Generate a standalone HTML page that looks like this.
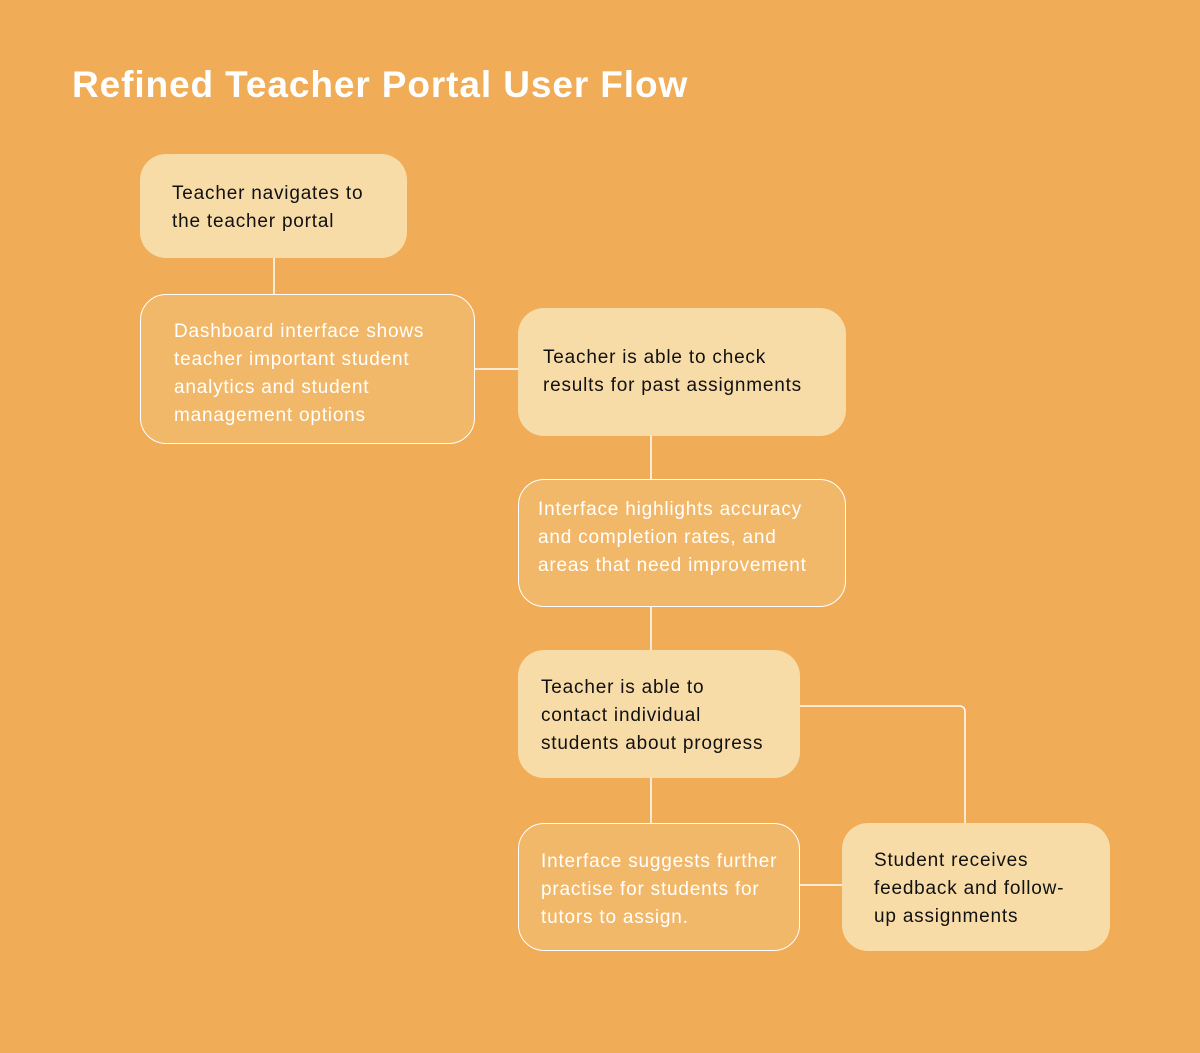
<!DOCTYPE html>
<html><head><meta charset="utf-8"><style>
html,body{margin:0;padding:0;}
body{width:1200px;height:1053px;background:#F0AC57;position:relative;overflow:hidden;font-family:"Liberation Sans",sans-serif;}
.t{position:absolute;left:72px;top:64px;font-size:37px;font-weight:bold;color:#fff;letter-spacing:0.9px;}
.b{position:absolute;box-sizing:border-box;border-radius:26px;font-size:19px;line-height:28px;letter-spacing:0.8px;white-space:nowrap;}
.l{background:#F8DCA8;color:#111;}
.o{background:#F2B86A;border:1.5px solid #fff;color:#fff;}
svg{position:absolute;left:0;top:0;}
</style></head><body>
<div class="t">Refined Teacher Portal User Flow</div>
<svg width="1200" height="1053"><g stroke="#fff" stroke-width="1.5" fill="none">
<line x1="274" y1="258" x2="274" y2="294"/>
<line x1="474" y1="369" x2="518" y2="369"/>
<line x1="651" y1="436" x2="651" y2="479"/>
<line x1="651" y1="606" x2="651" y2="650"/>
<line x1="651" y1="778" x2="651" y2="823"/>
<line x1="799" y1="885" x2="842" y2="885"/>
<path d="M800 706 H959 Q965 706 965 712 V823"/>
</g></svg>
<div class="b l" style="left:140px;top:154px;width:267px;height:104px;padding:26px 0 0 32px;">Teacher navigates to<br>the teacher portal</div>
<div class="b o" style="left:140px;top:294px;width:335px;height:150px;padding:23px 0 0 33px;">Dashboard interface shows<br>teacher important student<br>analytics and student<br>management options</div>
<div class="b l" style="left:518px;top:308px;width:328px;height:128px;padding:36px 0 0 25px;">Teacher is able to check<br>results for past assignments</div>
<div class="b o" style="left:518px;top:479px;width:328px;height:128px;padding:16px 0 0 19px;">Interface highlights accuracy<br>and completion rates, and<br>areas that need improvement</div>
<div class="b l" style="left:518px;top:650px;width:282px;height:128px;padding:24px 0 0 23px;">Teacher is able to<br>contact individual<br>students about progress</div>
<div class="b o" style="left:518px;top:823px;width:282px;height:128px;padding:24px 0 0 22px;">Interface suggests further<br>practise for students for<br>tutors to assign.</div>
<div class="b l" style="left:842px;top:823px;width:268px;height:128px;padding:24px 0 0 32px;">Student receives<br>feedback and follow-<br>up assignments</div>
</body></html>
